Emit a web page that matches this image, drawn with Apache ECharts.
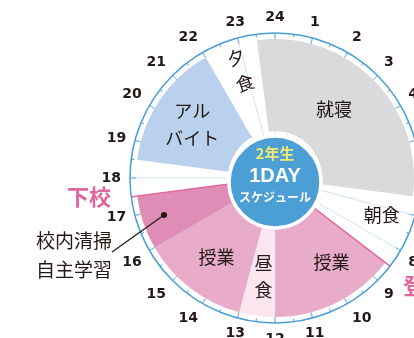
<!DOCTYPE html>
<html>
<head>
<meta charset="utf-8">
<script src="https://cdn.jsdelivr.net/npm/echarts@6/dist/echarts.min.js"></script>
<style>
html, body { margin: 0; padding: 0; background: #fff; }
#chart { width: 414px; height: 338px; }
</style>
</head>
<body>
<div id="chart"></div>
<script>
// 1日のスケジュール（時間）
var startHour = 23.5;
var names = ['就寝', '朝食', '授業', '昼食', '授業', '校内清掃', '', 'アルバイト', '夕食'];
var hours = [7, 2, 3.5, 1, 3, 1.5, 1, 3.5, 1.5];
// 目盛り
var hourMin = 0;
var hourMax = 24;
// 登校・下校
var eventNames = ['登校', '下校'];
var eventHours = [8.5, 17.5];

var myChart = echarts.init(document.getElementById('chart'));

var colors = ['#d9dadc', 'transparent', '#e8abc9', '#fbe5ef', '#e8abc9', '#df8cb7', 'transparent', '#b9d1ec', 'transparent'];
var labelText = ['就寝', '朝食', '授業', '昼\n食', '授業', '', '', 'アル\nバイト', '夕\n食'];
var labelShift = [[-9, -1], [18, 0], [14, -2], [1, 3], [0, 3], [0, 0], [0, 0], [-3, 0], [2, -17]];
var pink = '#df679f';
var ink = '#231815';
var cjk = '"Noto Sans CJK JP", sans-serif';

var pieData = names.map(function (n, i) {
    var item = {
        name: n,
        value: hours[i],
        itemStyle: { color: colors[i] }
    };
    if (n === '夕食') {
        item.label = { rotate: 19 };
    }
    return item;
});

var eventSeries = eventHours.map(function (h, i) {
    return {
        type: 'line',
        name: eventNames[i],
        coordinateSystem: 'polar',
        data: [[0, h], [158, h]],
        symbol: 'none',
        clip: false,
        silent: true,
        z: 3,
        lineStyle: { color: pink, width: 1.5 }
    };
});

option = {
    animation: false,
    polar: {
        center: [275, 178],
        radius: 145
    },
    radiusAxis: {
        type: 'value',
        min: 0,
        max: 145,
        show: false
    },
    angleAxis: {
        type: 'value',
        min: hourMin,
        max: hourMax,
        interval: 1,
        startAngle: 90,
        clockwise: true,
        axisLine: { lineStyle: { color: '#4a9ed6', width: 1.5 } },
        axisTick: { inside: true, length: 6, lineStyle: { color: '#4a9ed6', width: 1 } },
        minorTick: { show: true, splitNumber: 2, length: 3, lineStyle: { color: '#4a9ed6', width: 1 } },
        splitLine: { show: true, lineStyle: { color: '#9dcaea', type: 'dotted', width: 1 } },
        axisLabel: {
            margin: 9,
            color: ink,
            fontSize: 14,
            fontWeight: 'bold',
            fontFamily: 'DejaVu Sans',
            formatter: function (v) {
                return v === 0 ? '24' : String(v);
            }
        }
    },
    series: [{
        type: 'pie',
        center: [275, 178],
        radius: [47, 139],
        startAngle: 90 - startHour * 15 + 360,
        clockwise: true,
        avoidLabelOverlap: false,
        silent: true,
        z: 2,
        label: {
            show: true,
            position: 'inside',
            color: ink,
            fontSize: 18,
            fontFamily: cjk,
            lineHeight: 27,
            formatter: function (p) {
                return labelText[p.dataIndex];
            }
        },
        labelLine: { show: false },
        labelLayout: function (p) {
            var s = labelShift[p.dataIndex];
            return { dx: s[0], dy: s[1] };
        },
        data: pieData
    }].concat(eventSeries),
    graphic: [
        {
            type: 'circle', z: 10,
            shape: { cx: 275, cy: 182, r: 46 },
            style: { fill: '#4b9fd5', stroke: '#fff', lineWidth: 3.5 }
        },
        {
            type: 'text', z: 11, x: 275, y: 153,
            style: { text: '2年生', fill: '#f4e96f', font: 'bold 15px ' + cjk, align: 'center', verticalAlign: 'middle' }
        },
        {
            type: 'text', z: 11, x: 275, y: 176,
            style: { text: '1DAY', fill: '#fff', font: 'bold 20px "Liberation Sans", sans-serif', align: 'center', verticalAlign: 'middle' }
        },
        {
            type: 'text', z: 11, x: 275, y: 197,
            style: { text: 'スケジュール', fill: '#fff', font: 'bold 12px ' + cjk, align: 'center', verticalAlign: 'middle' }
        },
        {
            type: 'text', z: 11, x: 89, y: 197,
            style: { text: eventNames[1], fill: pink, font: 'bold 22px ' + cjk, align: 'center', verticalAlign: 'middle' }
        },
        {
            type: 'text', z: 11, x: 403, y: 286,
            style: { text: eventNames[0], fill: pink, font: 'bold 22px ' + cjk, align: 'left', verticalAlign: 'middle' }
        },
        // 校内清掃の引き出し線
        {
            type: 'line', z: 11,
            shape: { x1: 112, y1: 252, x2: 164, y2: 215 },
            style: { stroke: ink, lineWidth: 1.2 }
        },
        {
            type: 'circle', z: 11,
            shape: { cx: 164, cy: 215, r: 3 },
            style: { fill: ink }
        },
        {
            type: 'text', z: 11, x: 74, y: 241,
            style: { text: '校内清掃', fill: ink, font: '19px ' + cjk, align: 'center', verticalAlign: 'middle' }
        },
        {
            type: 'text', z: 11, x: 74, y: 270,
            style: { text: '自主学習', fill: ink, font: '19px ' + cjk, align: 'center', verticalAlign: 'middle' }
        }
    ]
};
myChart.setOption(option);
</script>
</body>
</html>
